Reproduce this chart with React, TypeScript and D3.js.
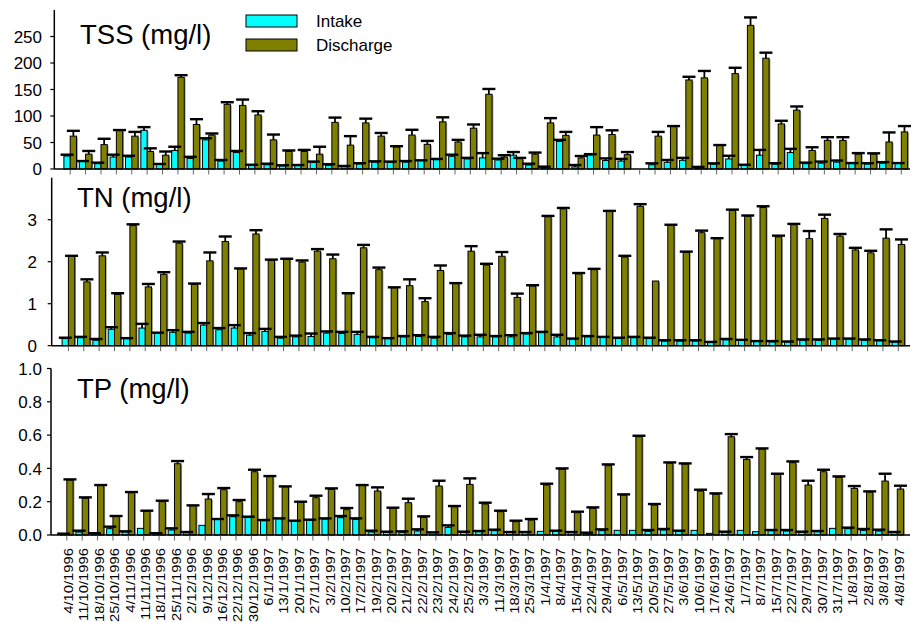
import React from 'react';
import * as d3 from 'd3';

const categories = [
  '4/10/1996', '11/10/1996', '18/10/1996', '25/10/1996', '4/11/1996', '11/11/1996', '18/11/1996',
  '25/11/1996', '2/12/1996', '9/12/1996', '16/12/1996', '22/12/1996', '30/12/1996', '6/1/1997',
  '13/1/1997', '20/1/1997', '27/1/1997', '3/2/1997', '10/2/1997', '17/2/1997', '19/2/1997',
  '20/2/1997', '21/2/1997', '22/2/1997', '23/2/1997', '24/2/1997', '25/2/1997', '3/3/1997',
  '11/3/1997', '18/3/1997', '25/3/1997', '1/4/1997', '8/4/1997', '15/4/1997', '22/4/1997',
  '29/4/1997', '6/5/1997', '13/5/1997', '20/5/1997', '27/5/1997', '3/6/1997', '10/6/1997',
  '17/6/1997', '24/6/1997', '1/7/1997', '8/7/1997', '15/7/1997', '22/7/1997', '29/7/1997',
  '30/7/1997', '31/7/1997', '1/8/1997', '2/8/1997', '3/8/1997', '4/8/1997',
];

const seriesNames = ['Intake', 'Discharge'];

// TSS (mg/l)
const tssIntake = [24.5, 14.5, 10, 22.6, 22.6, 73, 9, 35, 20, 55, 15, 31, 7.5, 8, 6, 7, 12.6, 7, 4.4, 9.4, 13, 13, 13, 16, 17.6, 24, 19, 21, 17, 26, 7.5, 2.5, 52, 4, 26.4, 16, 15, null, 8, 12.6, 16.4, 2, 9, 19, 7, 26, 9, 31, 10, 11, 13, 10.7, 9.4, 11, 10.7];
const tssIntakeErr = [2.5, 0.5, 2, 4.4, 2.4, 6, 0.5, 7, 3, 3, 2, 3, 0.5, 2, 1, 0.5, 1.4, 2, 1.3, 1.6, 1.5, 1, 2, 0.4, 1.4, 3, 2, 9, 2.5, 6, 2.5, 1.9, 3, 3.5, 1.6, 4, 4, null, 2.7, 4.4, 4.6, 2, 1.7, 6, 1, 10, 2, 7, 2, 3, 3, 0.5, 1.6, 2, 0.5];
const tssDischarge = [62, 28, 46, 73, 62, 33, 26, 173, 84, 64, 122, 120, 102, 55, 33, 33, 28, 88, 45, 87, 62, 41.5, 64, 46.5, 89, 51, 77, 141, 22.6, 19.5, 28, 87, 63.5, 21, 64, 65, 27, null, 62, 80.5, 168, 172, 44.7, 180, 271, 209, 85, 111, 35, 54, 54, 28, 28, 51, 70];
const tssDischargeErr = [10, 6, 11, 0.5, 8, 6, 7, 4, 10, 3, 4, 11, 7, 10, 2, 3, 14, 9, 17, 8, 6, 1.5, 10, 6.5, 8.5, 4, 7, 10, 3.4, 1.5, 3, 9, 6.5, 3.5, 15, 8, 5, null, 8, 0.5, 6, 13, 0.5, 11, 15, 10.5, 6, 7, 6, 6, 6, 2, 1.6, 18, 11];

// TN (mg/l)
const tnIntake = [0.17, 0.19, 0.13, 0.39, 0.17, 0.42, 0.30, 0.32, 0.30, 0.49, 0.38, 0.42, 0.25, 0.34, 0.18, 0.21, 0.22, 0.30, 0.29, 0.27, 0.19, 0.17, 0.21, 0.22, 0.18, 0.27, 0.21, 0.21, 0.21, 0.21, 0.28, 0.31, 0.21, 0.16, 0.21, 0.20, 0.17, 0.19, 0.17, 0.11, 0.11, 0.11, 0.08, 0.14, 0.13, 0.10, 0.09, 0.09, 0.13, 0.13, 0.16, 0.16, 0.13, 0.12, 0.09];
const tnIntakeErr = [0.02, 0.02, 0.03, 0.05, 0.01, 0.10, 0.01, 0.05, 0.03, 0.05, 0.04, 0.07, 0.05, 0.06, 0.03, 0.03, 0.07, 0.04, 0.04, 0.06, 0.02, 0.01, 0.02, 0.03, 0.03, 0.03, 0.03, 0.05, 0.02, 0.04, 0.02, 0.02, 0.05, 0.01, 0.02, 0.01, 0.02, 0.02, 0.02, 0.02, 0.02, 0.02, 0.01, 0.02, 0.01, 0.01, 0.02, 0.01, 0.02, 0.02, 0.01, 0.01, 0.02, 0.01, 0.01];
const tnDischarge = [2.13, 1.52, 2.14, 1.22, 2.86, 1.40, 1.70, 2.44, 1.46, 2.02, 2.48, 1.83, 2.66, 2.03, 2.06, 1.99, 2.25, 2.07, 1.24, 2.33, 1.81, 1.38, 1.43, 1.05, 1.79, 1.48, 2.25, 1.92, 2.13, 1.15, 1.42, 3.07, 3.26, 1.71, 1.81, 3.20, 2.11, 3.32, 1.54, 2.87, 2.22, 2.69, 2.55, 3.22, 3.08, 3.29, 2.59, 2.88, 2.55, 3.03, 2.61, 2.28, 2.21, 2.56, 2.41];
const tnDischargeErr = [0.01, 0.06, 0.08, 0.03, 0.03, 0.07, 0.05, 0.04, 0.02, 0.20, 0.12, 0.01, 0.09, 0.02, 0.01, 0.04, 0.05, 0.10, 0.01, 0.07, 0.05, 0.01, 0.15, 0.08, 0.12, 0.01, 0.12, 0.03, 0.10, 0.09, 0.02, 0.02, 0.02, 0.02, 0.02, 0.01, 0.03, 0.05, null, 0.01, 0.02, 0.05, 0.01, 0.02, 0.02, 0.03, 0.03, 0.02, 0.18, 0.09, 0.05, 0.05, 0.05, 0.21, 0.12];

// TP (mg/l)
const tpIntake = [0.005, 0.018, 0.01, 0.038, 0.018, 0.04, 0.01, 0.03, 0.014, 0.058, 0.094, 0.11, 0.106, 0.086, 0.098, 0.082, 0.09, 0.096, 0.104, 0.094, 0.018, 0.016, 0.016, 0.024, 0.014, 0.046, 0.016, 0.02, 0.026, 0.016, 0.016, 0.022, 0.022, 0.016, 0.01, 0.026, 0.028, 0.028, 0.022, 0.03, 0.022, 0.028, 0.01, 0.018, 0.028, 0.02, 0.026, 0.024, 0.018, 0.02, 0.04, 0.038, 0.028, 0.024, 0.016];
const tpIntakeErr = [0.003, 0.008, 0.001, 0.012, 0.004, null, 0.001, 0.01, 0.004, null, 0.002, 0.008, 0.004, 0.004, 0.002, 0.004, 0.002, 0.004, 0.01, 0.006, 0.008, 0.004, 0.006, 0.01, 0.002, 0.012, 0.004, 0.004, 0.006, 0.002, 0.002, null, 0.004, 0.002, 0.004, 0.008, null, null, 0.008, 0.006, 0.004, null, null, 0.002, null, null, 0.004, 0.006, 0.002, 0.004, null, 0.006, 0.008, 0.008, 0.002];
const tpDischarge = [0.33, 0.22, 0.298, 0.112, 0.254, 0.142, 0.20, 0.428, 0.176, 0.216, 0.272, 0.20, 0.38, 0.352, 0.29, 0.196, 0.224, 0.274, 0.152, 0.298, 0.264, 0.16, 0.194, 0.106, 0.294, 0.17, 0.304, 0.186, 0.14, 0.08, 0.09, 0.30, 0.394, 0.134, 0.16, 0.416, 0.24, 0.59, 0.18, 0.432, 0.426, 0.264, 0.244, 0.59, 0.454, 0.516, 0.364, 0.434, 0.30, 0.38, 0.346, 0.28, 0.258, 0.324, 0.276];
const tpDischargeErr = [0.004, 0.006, 0.002, 0.002, 0.004, 0.004, 0.006, 0.016, 0.002, 0.03, 0.01, 0.01, 0.012, 0.002, 0.002, 0.004, 0.012, 0.006, 0.01, 0.002, 0.022, 0.004, 0.024, 0.006, 0.032, 0.004, 0.036, 0.008, 0.006, 0.006, 0.006, 0.008, 0.006, 0.006, 0.006, 0.008, 0.004, 0.006, 0.006, 0.004, 0.004, 0.008, 0.006, 0.016, 0.014, 0.004, 0.004, 0.008, 0.026, 0.012, 0.006, 0.014, 0.004, 0.044, 0.02];

const tssTicks = [0, 50, 100, 150, 200, 250];
const tnTicks = [0, 1, 2, 3];
const tpTicks = [0, 0.2, 0.4, 0.6, 0.8, 1.0];

const FONT = '"Liberation Sans", Arial, Helvetica, sans-serif';
const COLORS: Record<string, string> = { Intake: '#00FFFF', Discharge: '#808000' };

type Series = { name: string; values: (number | null)[]; errs: (number | null)[] };
type PanelCfg = {
  title: string;
  titleX: number;
  titleY: number;
  axisX: number;
  top: number;
  base: number;
  yMax: number;
  ticks: number[];
  fmt: (v: number) => string;
  labelEnd: number;
  xFirst: number;
  xLast: number;
  series: Series[];
};

const panels: PanelCfg[] = [
  {
    title: 'TSS (mg/l)', titleX: 80, titleY: 44, axisX: 54.3, top: 10, base: 169, yMax: 300,
    ticks: tssTicks, fmt: (v) => String(v), labelEnd: 42, xFirst: 70.2, xLast: 901.3,
    series: [
      { name: 'Intake', values: tssIntake, errs: tssIntakeErr },
      { name: 'Discharge', values: tssDischarge, errs: tssDischargeErr },
    ],
  },
  {
    title: 'TN (mg/l)', titleX: 77, titleY: 207, axisX: 51.7, top: 177.7, base: 345.7, yMax: 4,
    ticks: tnTicks, fmt: (v) => String(v), labelEnd: 37, xFirst: 68.4, xLast: 898.3,
    series: [
      { name: 'Intake', values: tnIntake, errs: tnIntakeErr },
      { name: 'Discharge', values: tnDischarge, errs: tnDischargeErr },
    ],
  },
  {
    title: 'TP (mg/l)', titleX: 77, titleY: 397.7, axisX: 51, top: 368.5, base: 535, yMax: 1,
    ticks: tpTicks, fmt: d3.format('.1f'), labelEnd: 42, xFirst: 66.8, xLast: 897.3,
    series: [
      { name: 'Intake', values: tpIntake, errs: tpIntakeErr },
      { name: 'Discharge', values: tpDischarge, errs: tpDischargeErr },
    ],
  },
];

const AXIS_END = 910;

function Panel({ cfg, showLabels }: { cfg: PanelCfg; showLabels: boolean }) {
  const x = d3.scalePoint<string>().domain(categories).range([cfg.xFirst, cfg.xLast]);
  const y = d3.scaleLinear().domain([0, cfg.yMax]).range([cfg.base, cfg.top]);
  const sub = d3.scaleBand<string>().domain(seriesNames).range([-6.3, 6.3]);
  const bw = sub.bandwidth();
  const capW = 13;

  return (
    <g>
      {/* bars */}
      {cfg.series.map((s) => (
        <g key={s.name}>
          {categories.map((c, i) => {
            const v = s.values[i];
            if (v == null) return null;
            const x0 = (x(c) as number) + (sub(s.name) as number);
            const yt = y(v);
            const h = cfg.base - yt;
            return (
              <g key={c}>
                <rect x={x0 + 1.3} y={yt + 1} width={bw} height={Math.max(0, h - 1)} fill="#9a9a9a" />
                <rect x={x0} y={yt} width={bw} height={h} fill={COLORS[s.name]} stroke="#000" strokeWidth={1} />
              </g>
            );
          })}
        </g>
      ))}
      {/* error bars */}
      {cfg.series.map((s) => (
        <g key={s.name + '-err'}>
          {categories.map((c, i) => {
            const v = s.values[i];
            const e = s.errs[i];
            if (v == null || e == null) return null;
            const cx = (x(c) as number) + (sub(s.name) as number) + bw / 2;
            const y1 = y(v);
            const y2 = y(v + e);
            return (
              <g key={c}>
                <line x1={cx} x2={cx} y1={y1} y2={y2} stroke="#000" strokeWidth={1.8} />
                <line x1={cx - capW / 2} x2={cx + capW / 2} y1={y2} y2={y2} stroke="#000" strokeWidth={2.4} />
              </g>
            );
          })}
        </g>
      ))}
      {/* y axis */}
      <line x1={cfg.axisX} x2={cfg.axisX} y1={cfg.top} y2={cfg.base} stroke="#000" strokeWidth={1.5} />
      {cfg.ticks.map((t) => (
        <g key={t}>
          <line x1={cfg.axisX - 4} x2={cfg.axisX} y1={y(t)} y2={y(t)} stroke="#000" strokeWidth={1.2} />
          <text
            x={cfg.labelEnd}
            y={y(t)}
            dy="0.36em"
            textAnchor="end"
            fontFamily={FONT}
            fontSize={17}
            fill="#000"
          >
            {cfg.fmt(t)}
          </text>
        </g>
      ))}
      {/* x axis */}
      <line x1={cfg.axisX} x2={AXIS_END} y1={cfg.base} y2={cfg.base} stroke="#000" strokeWidth={1.5} />
      {categories.map((c) => (
        <line
          key={c}
          x1={x(c)}
          x2={x(c)}
          y1={cfg.base + 0.5}
          y2={cfg.base + 5.5}
          stroke="#666"
          strokeWidth={1}
        />
      ))}
      {showLabels &&
        categories.map((c) => (
          <text
            key={c + '-l'}
            transform={`translate(${(x(c) as number) + 6.3},${cfg.base + 13}) rotate(-90) scale(1.14,1)`}
            textAnchor="end"
            fontFamily={FONT}
            fontSize={13}
            fill="#000"
          >
            {c}
          </text>
        ))}
      {/* title */}
      <text x={cfg.titleX} y={cfg.titleY} fontFamily={FONT} fontSize={27.5} fill="#000">
        {cfg.title}
      </text>
    </g>
  );
}

export default function App() {
  return (
    <div style={{ position: 'absolute', left: 0, top: 0 }}>
      <svg width={911} height={622} style={{ display: 'block', background: '#fff' }}>
        {panels.map((p, i) => (
          <Panel key={p.title} cfg={p} showLabels={i === panels.length - 1} />
        ))}
        {/* legend */}
        {seriesNames.map((n, i) => (
          <g key={n}>
            <rect x={246} y={15 + i * 24} width={51} height={12} fill={COLORS[n]} stroke="#000" strokeWidth={1} />
            <text x={316} y={27 + i * 24} fontFamily={FONT} fontSize={17} fill="#000">
              {n}
            </text>
          </g>
        ))}
      </svg>
    </div>
  );
}
